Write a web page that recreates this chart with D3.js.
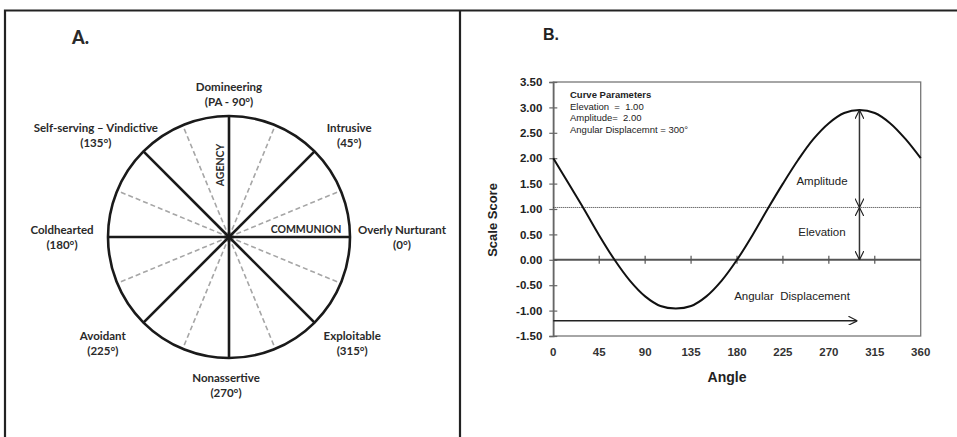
<!DOCTYPE html>
<meta charset="utf-8">
<head>
<style>
  body { margin: 0; background: #fff; }
  .lblA { font-family: Lato, "Open Sans", sans-serif; font-weight: 700; font-size: 11.5px; fill: #2a2a2a; }
  .lblB { font-family: "Liberation Sans", Arial, sans-serif; fill: #222; }
</style>
</head>
<body>
<svg id="chart"></svg>
<script src="https://d3js.org/d3.v7.min.js"></script>
<script>
var width = 957, height = 437;

// ---- panel A data
var octantAngles = [0, 45, 90, 135, 180, 225, 270, 315];
var octantNames = ["Overly Nurturant", "Intrusive", "Domineering", "Self-serving \u2013 Vindictive",
                   "Coldhearted", "Avoidant", "Nonassertive", "Exploitable"];
var octantCodes = ["(0\u00b0)", "(45\u00b0)", "(PA - 90\u00b0)", "(135\u00b0)",
                   "(180\u00b0)", "(225\u00b0)", "(270\u00b0)", "(315\u00b0)"];
var midAngles = [22.5, 67.5, 112.5, 157.5, 202.5, 247.5, 292.5, 337.5];

// ---- panel B data
var curveAngles = [0, 15, 30, 45, 60, 75, 90, 105, 120, 135, 150, 165, 180,
                   195, 210, 225, 240, 255, 270, 285, 300, 315, 330, 345, 360];
var curveScores = [2.00, 1.50, 1.00, 0.48, 0.00, -0.41, -0.72, -0.91, -0.96, -0.91, -0.72, -0.41, 0.00,
                   0.48, 1.00, 1.50, 1.97, 2.38, 2.69, 2.89, 2.95, 2.89, 2.69, 2.38, 2.00];
var xTicks = [0, 45, 90, 135, 180, 225, 270, 315, 360];
var yTicks = [-1.5, -1.0, -0.5, 0, 0.5, 1.0, 1.5, 2.0, 2.5, 3.0, 3.5];
var paramTitle = "Curve Parameters";
var paramLines = ["Elevation  =  1.00", "Amplitude=  2.00", "Angular Displacemnt = 300\u00b0"];
var elevationLine = 1.03, peakScore = 2.95, peakAngle = 300;
var displacementScore = -1.2, displacementEnd = 298;

var svg = d3.select("#chart").attr("width", width).attr("height", height);

// arrowheads
var defs = svg.append("defs");
defs.append("marker").attr("id", "head")
  .attr("viewBox", "0 0 10 10").attr("refX", 10).attr("refY", 5)
  .attr("markerWidth", 9).attr("markerHeight", 9)
  .attr("markerUnits", "userSpaceOnUse").attr("orient", "auto-start-reverse")
  .append("path").attr("d", "M0,0 L10,5 L0,10")
  .attr("fill", "none").attr("stroke", "#222").attr("stroke-width", 1.3);

// outer frame
svg.append("path").attr("d", "M5,437 V10.5 H957")
  .attr("fill", "none").attr("stroke", "#222").attr("stroke-width", 2.2);
svg.append("line").attr("x1", 460).attr("x2", 460).attr("y1", 10).attr("y2", 437)
  .attr("stroke", "#222").attr("stroke-width", 2.2);

// ================= Panel A
var cx = 229, cy = 237;
var r = d3.scaleLinear().domain([0, 1]).range([0, 121]);
var rad = function(a) { return a * Math.PI / 180; };

svg.append("text").attr("class", "lblA").attr("x", 72).attr("y", 44)
  .style("font-size", "18px").style("font-weight", 900).text("A.");

var gA = svg.append("g").attr("transform", "translate(" + cx + "," + cy + ")");

gA.selectAll(".mid").data(midAngles).join("line").attr("class", "mid")
  .attr("x1", 0).attr("y1", 0)
  .attr("x2", function(d) { return r(1) * Math.cos(rad(d)); })
  .attr("y2", function(d) { return -r(1) * Math.sin(rad(d)); })
  .attr("stroke", "#a6a6a6").attr("stroke-width", 1.6).attr("stroke-dasharray", "5,3");

gA.selectAll(".spoke").data(octantAngles).join("line").attr("class", "spoke")
  .attr("x1", 0).attr("y1", 0)
  .attr("x2", function(d) { return r(1) * Math.cos(rad(d)); })
  .attr("y2", function(d) { return -r(1) * Math.sin(rad(d)); })
  .attr("stroke", "#1a1a1a").attr("stroke-width", 2.6);

gA.append("circle").attr("r", r(1)).attr("fill", "none")
  .attr("stroke", "#1a1a1a").attr("stroke-width", 2.6);

gA.append("text").attr("class", "lblA")
  .attr("transform", "translate(-8,-72) rotate(-90)")
  .attr("text-anchor", "middle").attr("dominant-baseline", "middle")
  .style("font-size", "10.5px").text("AGENCY");
gA.append("text").attr("class", "lblA")
  .attr("x", 77).attr("y", -7)
  .attr("text-anchor", "middle").attr("dominant-baseline", "middle")
  .style("font-size", "10.5px").text("COMMUNION");

var nudge = { 135: -13, 225: -6, 180: 3, 0: 3, 315: 3, 270: -3 };
var labA = gA.selectAll(".oct").data(octantAngles).join("text").attr("class", "lblA")
  .attr("text-anchor", "middle");
labA.each(function(d, i) {
  var x = 170 * Math.cos(rad(d)) + (nudge[d] || 0);
  var y = -143 * Math.sin(rad(d)) + (d > 180 ? 5 : 0);
  var t = d3.select(this);
  t.append("tspan").attr("x", x).attr("y", y - 3.5).text(octantNames[i]);
  t.append("tspan").attr("x", x).attr("y", y + 11.5).text(octantCodes[i]);
});

// ================= Panel B
var x = d3.scaleLinear().domain([0, 360]).range([553.3, 920.7]);
var y = d3.scaleLinear().domain([-1.5, 3.5]).range([336, 82]);

svg.append("text").attr("class", "lblB").attr("x", 543).attr("y", 40)
  .style("font-size", "16px").style("font-weight", 700).text("B.");

// box
svg.append("rect").attr("x", x(0)).attr("y", y(3.5))
  .attr("width", x(360) - x(0)).attr("height", y(-1.5) - y(3.5))
  .attr("fill", "none").attr("stroke", "#777").attr("stroke-width", 1.3);

// y axis
var fmt = d3.format(".2f");
var yAxis = svg.append("g").attr("transform", "translate(" + x(0) + ",0)")
  .call(d3.axisLeft(y).tickValues(yTicks).tickSize(4).tickPadding(7)
    .tickFormat(function(d) { return fmt(d).replace("\u2212", "-"); }));
yAxis.select(".domain").attr("stroke", "#666").attr("stroke-width", 1.5);
yAxis.selectAll(".tick line").attr("stroke", "#666").attr("x2", -4).attr("x1", 4).attr("stroke-width", 1.2);
yAxis.selectAll("text").attr("class", "lblB")
  .style("font-size", "11.5px").style("font-weight", 700).attr("fill", "#333");

// x tick labels below box
svg.selectAll(".xlab").data(xTicks).join("text").attr("class", "lblB")
  .attr("x", function(d) { return x(d); }).attr("y", 356)
  .attr("text-anchor", "middle")
  .style("font-size", "11.5px").style("font-weight", 700).style("fill", "#333")
  .text(function(d) { return d; });

// zero line with ticks
svg.append("line").attr("x1", x(0)).attr("x2", x(360)).attr("y1", y(0)).attr("y2", y(0))
  .attr("stroke", "#555").attr("stroke-width", 2);
svg.selectAll(".xtick").data(xTicks.slice(1, -1)).join("line")
  .attr("x1", function(d) { return x(d); }).attr("x2", function(d) { return x(d); })
  .attr("y1", y(0) - 4).attr("y2", y(0) + 4)
  .attr("stroke", "#555").attr("stroke-width", 1.2);

// elevation dotted line
svg.append("line").attr("x1", x(0)).attr("x2", x(360))
  .attr("y1", y(elevationLine)).attr("y2", y(elevationLine))
  .attr("stroke", "#333").attr("stroke-width", 1).attr("stroke-dasharray", "1,1");

// curve
var pts = curveAngles.map(function(a, i) { return [a, curveScores[i]]; });
svg.append("path").datum(pts)
  .attr("d", d3.line().x(function(d) { return x(d[0]); }).y(function(d) { return y(d[1]); })
    .curve(d3.curveCatmullRom))
  .attr("fill", "none").attr("stroke", "#111").attr("stroke-width", 2);

// arrows
svg.append("line").attr("x1", x(peakAngle)).attr("x2", x(peakAngle))
  .attr("y1", y(elevationLine)).attr("y2", y(peakScore))
  .attr("stroke", "#333").attr("stroke-width", 1.5)
  .attr("marker-start", "url(#head)").attr("marker-end", "url(#head)");
svg.append("line").attr("x1", x(peakAngle)).attr("x2", x(peakAngle))
  .attr("y1", y(elevationLine)).attr("y2", y(0))
  .attr("stroke", "#333").attr("stroke-width", 1.5)
  .attr("marker-start", "url(#head)").attr("marker-end", "url(#head)");
svg.append("line").attr("x1", x(0)).attr("x2", x(displacementEnd))
  .attr("y1", y(displacementScore)).attr("y2", y(displacementScore))
  .attr("stroke", "#222").attr("stroke-width", 1.3)
  .attr("marker-end", "url(#head)");

// annotation text
var ann = svg.append("g").attr("class", "lblB").style("font-size", "11.5px");
ann.append("text").attr("x", 822).attr("y", 185).attr("text-anchor", "middle").text("Amplitude");
ann.append("text").attr("x", 822).attr("y", 236).attr("text-anchor", "middle").text("Elevation");
ann.append("text").attr("x", 792).attr("y", 300).attr("text-anchor", "middle")
  .style("white-space", "pre").text("Angular  Displacement");

var par = svg.append("g").attr("class", "lblB").style("font-size", "9.5px");
par.append("text").attr("x", 570).attr("y", 98).style("font-weight", 700).text(paramTitle);
par.selectAll(".pl").data(paramLines).join("text")
  .attr("x", 570).attr("y", function(d, i) { return 109.5 + i * 11.5; })
  .style("white-space", "pre").text(function(d) { return d; });

// axis titles
svg.append("text").attr("class", "lblB").attr("x", 727).attr("y", 382)
  .attr("text-anchor", "middle").style("font-size", "14px").style("font-weight", 700)
  .text("Angle");
svg.append("text").attr("class", "lblB")
  .attr("transform", "translate(497,220) rotate(-90)")
  .attr("text-anchor", "middle").style("font-size", "13px").style("font-weight", 700)
  .text("Scale Score");
</script>
</body>
